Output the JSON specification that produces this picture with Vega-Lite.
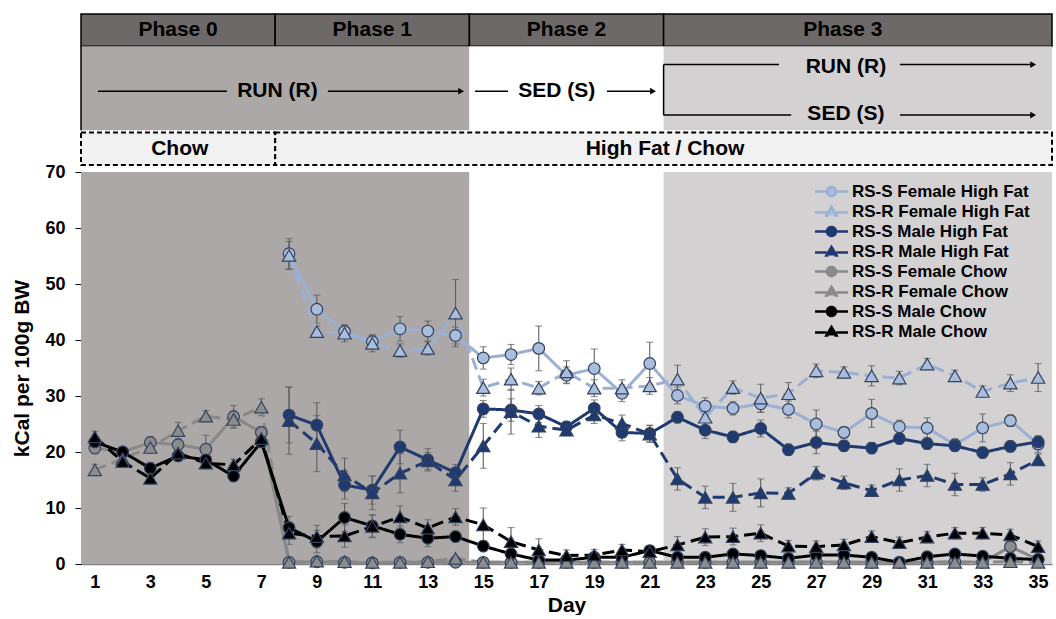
{
  "$schema": "https://vega.github.io/schema/vega-lite/v6.json",
  "width": 971,
  "height": 392,
  "padding": {"left": 11, "top": 13, "right": 0, "bottom": 0},
  "background": "white",
  "config": {
    "font": "Liberation Sans",
    "view": {"stroke": null},
    "axis": {"labelFont": "Liberation Sans", "titleFont": "Liberation Sans", "labelFontWeight": "bold", "titleFontWeight": "bold", "labelColor": "#000000", "titleColor": "#000000", "grid": false}
  },
  "datasets": {
    "bands": [
      {"state": "RUN", "start": 0.5, "end": 14.5},
      {"state": "SED", "start": 14.5, "end": 21.5},
      {"state": "RUN/SED", "start": 21.5, "end": 35.5}
    ],
    "phases": [
      {"label": "Phase 0", "start": 0.5, "end": 7.5, "mid": 4.0},
      {"label": "Phase 1", "start": 7.5, "end": 14.5, "mid": 11.0},
      {"label": "Phase 2", "start": 14.5, "end": 21.5, "mid": 18.0},
      {"label": "Phase 3", "start": 21.5, "end": 35.5, "mid": 27.96}
    ],
    "diets": [
      {"diet": "Chow", "start": 0.5, "end": 7.5, "mid": 4.06},
      {"diet": "High Fat / Chow", "start": 7.5, "end": 35.5, "mid": 21.55}
    ],
    "arrows": [
      {"start": 1.11, "end": 5.76, "lvl": 2.25, "lvl2": 2.25, "head": false},
      {"start": 9.4, "end": 14.2, "lvl": 2.25, "lvl2": 2.25, "head": true},
      {"start": 14.7, "end": 15.89, "lvl": 2.25, "lvl2": 2.25, "head": false},
      {"start": 19.46, "end": 21.12, "lvl": 2.25, "lvl2": 2.25, "head": true},
      {"start": 21.5, "end": 25.66, "lvl": 3.06, "lvl2": 3.06, "head": false},
      {"start": 30.02, "end": 34.82, "lvl": 3.06, "lvl2": 3.06, "head": true},
      {"start": 21.5, "end": 26.1, "lvl": 1.52, "lvl2": 1.52, "head": false},
      {"start": 30.02, "end": 34.82, "lvl": 1.52, "lvl2": 1.52, "head": true},
      {"start": 21.5, "end": 21.5, "lvl": 1.52, "lvl2": 3.06, "head": false},
      {"start": 0.5, "end": 0.5, "lvl": 1.06, "lvl2": 3.62, "head": false}
    ],
    "states": [
      {"text": "RUN (R)", "at": 7.58, "lvl": 2.25},
      {"text": "SED (S)", "at": 17.65, "lvl": 2.25},
      {"text": "RUN (R)", "at": 28.07, "lvl": 3.0},
      {"text": "SED (S)", "at": 28.07, "lvl": 1.56}
    ],
    "intake": [
      {"series": "RS-S Female High Fat", "day": 8, "kcal": 55.4, "sem": 2.7},
      {"series": "RS-S Female High Fat", "day": 9, "kcal": 45.5, "sem": 2.5},
      {"series": "RS-S Female High Fat", "day": 10, "kcal": 41.5, "sem": 1.2},
      {"series": "RS-S Female High Fat", "day": 11, "kcal": 39.7, "sem": 1.2},
      {"series": "RS-S Female High Fat", "day": 12, "kcal": 42.0, "sem": 2.2},
      {"series": "RS-S Female High Fat", "day": 13, "kcal": 41.6, "sem": 1.8},
      {"series": "RS-S Female High Fat", "day": 14, "kcal": 40.8, "sem": 1.5},
      {"series": "RS-S Female High Fat", "day": 15, "kcal": 36.8, "sem": 2.0},
      {"series": "RS-S Female High Fat", "day": 16, "kcal": 37.4, "sem": 1.8},
      {"series": "RS-S Female High Fat", "day": 17, "kcal": 38.5, "sem": 4.0},
      {"series": "RS-S Female High Fat", "day": 18, "kcal": 33.7, "sem": 1.5},
      {"series": "RS-S Female High Fat", "day": 19, "kcal": 34.9, "sem": 3.5},
      {"series": "RS-S Female High Fat", "day": 20, "kcal": 30.5, "sem": 1.5},
      {"series": "RS-S Female High Fat", "day": 21, "kcal": 35.8, "sem": 3.8},
      {"series": "RS-S Female High Fat", "day": 22, "kcal": 30.1, "sem": 1.5},
      {"series": "RS-S Female High Fat", "day": 23, "kcal": 28.2, "sem": 1.5},
      {"series": "RS-S Female High Fat", "day": 24, "kcal": 27.8, "sem": 1.2},
      {"series": "RS-S Female High Fat", "day": 25, "kcal": 28.6, "sem": 1.5},
      {"series": "RS-S Female High Fat", "day": 26, "kcal": 27.6, "sem": 1.5},
      {"series": "RS-S Female High Fat", "day": 27, "kcal": 25.0, "sem": 2.5},
      {"series": "RS-S Female High Fat", "day": 28, "kcal": 23.5, "sem": 1.0},
      {"series": "RS-S Female High Fat", "day": 29, "kcal": 26.9, "sem": 2.5},
      {"series": "RS-S Female High Fat", "day": 30, "kcal": 24.5, "sem": 1.2},
      {"series": "RS-S Female High Fat", "day": 31, "kcal": 24.3, "sem": 1.8},
      {"series": "RS-S Female High Fat", "day": 32, "kcal": 21.3, "sem": 1.0},
      {"series": "RS-S Female High Fat", "day": 33, "kcal": 24.3, "sem": 2.5},
      {"series": "RS-S Female High Fat", "day": 34, "kcal": 25.6, "sem": 1.0},
      {"series": "RS-S Female High Fat", "day": 35, "kcal": 21.4, "sem": 1.5},
      {"series": "RS-R Female High Fat", "day": 8, "kcal": 55.1, "sem": 2.5},
      {"series": "RS-R Female High Fat", "day": 9, "kcal": 41.5, "sem": 1.0},
      {"series": "RS-R Female High Fat", "day": 10, "kcal": 41.2, "sem": 1.5},
      {"series": "RS-R Female High Fat", "day": 11, "kcal": 39.4, "sem": 1.5},
      {"series": "RS-R Female High Fat", "day": 12, "kcal": 38.1, "sem": 1.2},
      {"series": "RS-R Female High Fat", "day": 13, "kcal": 38.5, "sem": 1.2},
      {"series": "RS-R Female High Fat", "day": 14, "kcal": 44.8, "sem": 6.0},
      {"series": "RS-R Female High Fat", "day": 15, "kcal": 31.5, "sem": 1.5},
      {"series": "RS-R Female High Fat", "day": 16, "kcal": 33.0, "sem": 2.0},
      {"series": "RS-R Female High Fat", "day": 17, "kcal": 31.4, "sem": 1.2},
      {"series": "RS-R Female High Fat", "day": 18, "kcal": 34.3, "sem": 2.0},
      {"series": "RS-R Female High Fat", "day": 19, "kcal": 31.4, "sem": 1.5},
      {"series": "RS-R Female High Fat", "day": 20, "kcal": 31.4, "sem": 1.5},
      {"series": "RS-R Female High Fat", "day": 21, "kcal": 31.8, "sem": 1.5},
      {"series": "RS-R Female High Fat", "day": 22, "kcal": 33.0, "sem": 2.5},
      {"series": "RS-R Female High Fat", "day": 23, "kcal": 26.2, "sem": 1.5},
      {"series": "RS-R Female High Fat", "day": 24, "kcal": 31.5, "sem": 1.2},
      {"series": "RS-R Female High Fat", "day": 25, "kcal": 29.6, "sem": 2.5},
      {"series": "RS-R Female High Fat", "day": 26, "kcal": 30.4, "sem": 2.0},
      {"series": "RS-R Female High Fat", "day": 27, "kcal": 34.5, "sem": 1.2},
      {"series": "RS-R Female High Fat", "day": 28, "kcal": 34.2, "sem": 1.0},
      {"series": "RS-R Female High Fat", "day": 29, "kcal": 33.6, "sem": 1.8},
      {"series": "RS-R Female High Fat", "day": 30, "kcal": 33.2, "sem": 1.2},
      {"series": "RS-R Female High Fat", "day": 31, "kcal": 35.7, "sem": 1.0},
      {"series": "RS-R Female High Fat", "day": 32, "kcal": 33.6, "sem": 1.0},
      {"series": "RS-R Female High Fat", "day": 33, "kcal": 30.8, "sem": 1.0},
      {"series": "RS-R Female High Fat", "day": 34, "kcal": 32.3, "sem": 1.5},
      {"series": "RS-R Female High Fat", "day": 35, "kcal": 33.3, "sem": 2.5},
      {"series": "RS-S Male High Fat", "day": 8, "kcal": 26.6, "sem": 5.0},
      {"series": "RS-S Male High Fat", "day": 9, "kcal": 24.8, "sem": 4.0},
      {"series": "RS-S Male High Fat", "day": 10, "kcal": 14.1, "sem": 2.5},
      {"series": "RS-S Male High Fat", "day": 11, "kcal": 13.2, "sem": 2.5},
      {"series": "RS-S Male High Fat", "day": 12, "kcal": 20.9, "sem": 3.0},
      {"series": "RS-S Male High Fat", "day": 13, "kcal": 18.6, "sem": 2.0},
      {"series": "RS-S Male High Fat", "day": 14, "kcal": 16.3, "sem": 1.5},
      {"series": "RS-S Male High Fat", "day": 15, "kcal": 27.7, "sem": 1.5},
      {"series": "RS-S Male High Fat", "day": 16, "kcal": 27.5, "sem": 2.0},
      {"series": "RS-S Male High Fat", "day": 17, "kcal": 26.8, "sem": 1.5},
      {"series": "RS-S Male High Fat", "day": 18, "kcal": 24.5, "sem": 1.0},
      {"series": "RS-S Male High Fat", "day": 19, "kcal": 27.8, "sem": 1.5},
      {"series": "RS-S Male High Fat", "day": 20, "kcal": 23.5, "sem": 1.5},
      {"series": "RS-S Male High Fat", "day": 21, "kcal": 23.3, "sem": 1.5},
      {"series": "RS-S Male High Fat", "day": 22, "kcal": 26.2, "sem": 1.0},
      {"series": "RS-S Male High Fat", "day": 23, "kcal": 23.9, "sem": 1.5},
      {"series": "RS-S Male High Fat", "day": 24, "kcal": 22.7, "sem": 1.0},
      {"series": "RS-S Male High Fat", "day": 25, "kcal": 24.2, "sem": 1.5},
      {"series": "RS-S Male High Fat", "day": 26, "kcal": 20.4, "sem": 1.0},
      {"series": "RS-S Male High Fat", "day": 27, "kcal": 21.7, "sem": 2.0},
      {"series": "RS-S Male High Fat", "day": 28, "kcal": 21.1, "sem": 1.0},
      {"series": "RS-S Male High Fat", "day": 29, "kcal": 20.7, "sem": 1.0},
      {"series": "RS-S Male High Fat", "day": 30, "kcal": 22.4, "sem": 1.0},
      {"series": "RS-S Male High Fat", "day": 31, "kcal": 21.5, "sem": 1.0},
      {"series": "RS-S Male High Fat", "day": 32, "kcal": 21.1, "sem": 1.0},
      {"series": "RS-S Male High Fat", "day": 33, "kcal": 19.9, "sem": 1.0},
      {"series": "RS-S Male High Fat", "day": 34, "kcal": 21.0, "sem": 1.0},
      {"series": "RS-S Male High Fat", "day": 35, "kcal": 21.8, "sem": 1.0},
      {"series": "RS-R Male High Fat", "day": 8, "kcal": 25.6, "sem": 6.0},
      {"series": "RS-R Male High Fat", "day": 9, "kcal": 21.5, "sem": 5.0},
      {"series": "RS-R Male High Fat", "day": 10, "kcal": 15.9, "sem": 3.0},
      {"series": "RS-R Male High Fat", "day": 11, "kcal": 12.7, "sem": 3.0},
      {"series": "RS-R Male High Fat", "day": 12, "kcal": 16.2, "sem": 3.5},
      {"series": "RS-R Male High Fat", "day": 13, "kcal": 18.4, "sem": 1.5},
      {"series": "RS-R Male High Fat", "day": 14, "kcal": 15.0, "sem": 2.0},
      {"series": "RS-R Male High Fat", "day": 15, "kcal": 21.1, "sem": 4.0},
      {"series": "RS-R Male High Fat", "day": 16, "kcal": 27.2, "sem": 4.0},
      {"series": "RS-R Male High Fat", "day": 17, "kcal": 24.6, "sem": 2.0},
      {"series": "RS-R Male High Fat", "day": 18, "kcal": 23.9, "sem": 1.0},
      {"series": "RS-R Male High Fat", "day": 19, "kcal": 26.6, "sem": 1.5},
      {"series": "RS-R Male High Fat", "day": 20, "kcal": 25.1, "sem": 1.5},
      {"series": "RS-R Male High Fat", "day": 21, "kcal": 23.2, "sem": 1.5},
      {"series": "RS-R Male High Fat", "day": 22, "kcal": 15.2, "sem": 2.0},
      {"series": "RS-R Male High Fat", "day": 23, "kcal": 11.9, "sem": 2.0},
      {"series": "RS-R Male High Fat", "day": 24, "kcal": 11.9, "sem": 2.5},
      {"series": "RS-R Male High Fat", "day": 25, "kcal": 12.7, "sem": 2.5},
      {"series": "RS-R Male High Fat", "day": 26, "kcal": 12.6, "sem": 1.0},
      {"series": "RS-R Male High Fat", "day": 27, "kcal": 16.2, "sem": 1.2},
      {"series": "RS-R Male High Fat", "day": 28, "kcal": 14.5, "sem": 1.2},
      {"series": "RS-R Male High Fat", "day": 29, "kcal": 13.1, "sem": 1.0},
      {"series": "RS-R Male High Fat", "day": 30, "kcal": 15.0, "sem": 2.0},
      {"series": "RS-R Male High Fat", "day": 31, "kcal": 15.8, "sem": 2.0},
      {"series": "RS-R Male High Fat", "day": 32, "kcal": 14.2, "sem": 2.0},
      {"series": "RS-R Male High Fat", "day": 33, "kcal": 14.2, "sem": 1.2},
      {"series": "RS-R Male High Fat", "day": 34, "kcal": 16.1, "sem": 2.0},
      {"series": "RS-R Male High Fat", "day": 35, "kcal": 18.6, "sem": 1.0},
      {"series": "RS-S Female Chow", "day": 1, "kcal": 20.7, "sem": 1.0},
      {"series": "RS-S Female Chow", "day": 2, "kcal": 20.0, "sem": 0.8},
      {"series": "RS-S Female Chow", "day": 3, "kcal": 21.7, "sem": 1.0},
      {"series": "RS-S Female Chow", "day": 4, "kcal": 21.3, "sem": 1.0},
      {"series": "RS-S Female Chow", "day": 5, "kcal": 20.5, "sem": 2.5},
      {"series": "RS-S Female Chow", "day": 6, "kcal": 26.3, "sem": 2.0},
      {"series": "RS-S Female Chow", "day": 7, "kcal": 23.5, "sem": 1.0},
      {"series": "RS-S Female Chow", "day": 8, "kcal": 0.3, "sem": 0.2},
      {"series": "RS-S Female Chow", "day": 9, "kcal": 0.4, "sem": 0.2},
      {"series": "RS-S Female Chow", "day": 10, "kcal": 0.3, "sem": 0.2},
      {"series": "RS-S Female Chow", "day": 11, "kcal": 0.2, "sem": 0.2},
      {"series": "RS-S Female Chow", "day": 12, "kcal": 0.3, "sem": 0.2},
      {"series": "RS-S Female Chow", "day": 13, "kcal": 0.3, "sem": 0.2},
      {"series": "RS-S Female Chow", "day": 14, "kcal": 0.3, "sem": 0.2},
      {"series": "RS-S Female Chow", "day": 15, "kcal": 0.3, "sem": 0.2},
      {"series": "RS-S Female Chow", "day": 16, "kcal": 0.3, "sem": 0.2},
      {"series": "RS-S Female Chow", "day": 17, "kcal": 0.3, "sem": 0.2},
      {"series": "RS-S Female Chow", "day": 18, "kcal": 0.3, "sem": 0.2},
      {"series": "RS-S Female Chow", "day": 19, "kcal": 0.3, "sem": 0.2},
      {"series": "RS-S Female Chow", "day": 20, "kcal": 0.3, "sem": 0.2},
      {"series": "RS-S Female Chow", "day": 21, "kcal": 0.3, "sem": 0.2},
      {"series": "RS-S Female Chow", "day": 22, "kcal": 0.3, "sem": 0.2},
      {"series": "RS-S Female Chow", "day": 23, "kcal": 0.3, "sem": 0.2},
      {"series": "RS-S Female Chow", "day": 24, "kcal": 0.3, "sem": 0.2},
      {"series": "RS-S Female Chow", "day": 25, "kcal": 0.3, "sem": 0.2},
      {"series": "RS-S Female Chow", "day": 26, "kcal": 0.3, "sem": 0.2},
      {"series": "RS-S Female Chow", "day": 27, "kcal": 0.4, "sem": 0.2},
      {"series": "RS-S Female Chow", "day": 28, "kcal": 0.3, "sem": 0.2},
      {"series": "RS-S Female Chow", "day": 29, "kcal": 0.3, "sem": 0.2},
      {"series": "RS-S Female Chow", "day": 30, "kcal": 0.3, "sem": 0.2},
      {"series": "RS-S Female Chow", "day": 31, "kcal": 0.3, "sem": 0.2},
      {"series": "RS-S Female Chow", "day": 32, "kcal": 0.4, "sem": 0.2},
      {"series": "RS-S Female Chow", "day": 33, "kcal": 0.3, "sem": 0.2},
      {"series": "RS-S Female Chow", "day": 34, "kcal": 3.1, "sem": 1.0},
      {"series": "RS-S Female Chow", "day": 35, "kcal": 0.8, "sem": 0.3},
      {"series": "RS-R Female Chow", "day": 1, "kcal": 16.8, "sem": 1.0},
      {"series": "RS-R Female Chow", "day": 2, "kcal": 18.8, "sem": 1.0},
      {"series": "RS-R Female Chow", "day": 3, "kcal": 20.8, "sem": 1.0},
      {"series": "RS-R Female Chow", "day": 4, "kcal": 23.8, "sem": 1.5},
      {"series": "RS-R Female Chow", "day": 5, "kcal": 26.4, "sem": 1.0},
      {"series": "RS-R Female Chow", "day": 6, "kcal": 25.8, "sem": 1.5},
      {"series": "RS-R Female Chow", "day": 7, "kcal": 28.0, "sem": 1.5},
      {"series": "RS-R Female Chow", "day": 8, "kcal": 0.3, "sem": 0.2},
      {"series": "RS-R Female Chow", "day": 9, "kcal": 0.5, "sem": 0.2},
      {"series": "RS-R Female Chow", "day": 10, "kcal": 0.4, "sem": 0.2},
      {"series": "RS-R Female Chow", "day": 11, "kcal": 0.3, "sem": 0.2},
      {"series": "RS-R Female Chow", "day": 12, "kcal": 0.3, "sem": 0.2},
      {"series": "RS-R Female Chow", "day": 13, "kcal": 0.4, "sem": 0.2},
      {"series": "RS-R Female Chow", "day": 14, "kcal": 1.0, "sem": 0.3},
      {"series": "RS-R Female Chow", "day": 15, "kcal": 0.3, "sem": 0.2},
      {"series": "RS-R Female Chow", "day": 16, "kcal": 0.3, "sem": 0.2},
      {"series": "RS-R Female Chow", "day": 17, "kcal": 0.3, "sem": 0.2},
      {"series": "RS-R Female Chow", "day": 18, "kcal": 0.3, "sem": 0.2},
      {"series": "RS-R Female Chow", "day": 19, "kcal": 0.3, "sem": 0.2},
      {"series": "RS-R Female Chow", "day": 20, "kcal": 0.3, "sem": 0.2},
      {"series": "RS-R Female Chow", "day": 21, "kcal": 0.3, "sem": 0.2},
      {"series": "RS-R Female Chow", "day": 22, "kcal": 0.3, "sem": 0.2},
      {"series": "RS-R Female Chow", "day": 23, "kcal": 0.3, "sem": 0.2},
      {"series": "RS-R Female Chow", "day": 24, "kcal": 0.3, "sem": 0.2},
      {"series": "RS-R Female Chow", "day": 25, "kcal": 0.3, "sem": 0.2},
      {"series": "RS-R Female Chow", "day": 26, "kcal": 0.3, "sem": 0.2},
      {"series": "RS-R Female Chow", "day": 27, "kcal": 0.3, "sem": 0.2},
      {"series": "RS-R Female Chow", "day": 28, "kcal": 0.3, "sem": 0.2},
      {"series": "RS-R Female Chow", "day": 29, "kcal": 0.3, "sem": 0.2},
      {"series": "RS-R Female Chow", "day": 30, "kcal": 0.3, "sem": 0.2},
      {"series": "RS-R Female Chow", "day": 31, "kcal": 0.3, "sem": 0.2},
      {"series": "RS-R Female Chow", "day": 32, "kcal": 0.3, "sem": 0.2},
      {"series": "RS-R Female Chow", "day": 33, "kcal": 0.3, "sem": 0.2},
      {"series": "RS-R Female Chow", "day": 34, "kcal": 0.4, "sem": 0.2},
      {"series": "RS-R Female Chow", "day": 35, "kcal": 0.3, "sem": 0.2},
      {"series": "RS-S Male Chow", "day": 1, "kcal": 21.8, "sem": 1.0},
      {"series": "RS-S Male Chow", "day": 2, "kcal": 20.0, "sem": 0.8},
      {"series": "RS-S Male Chow", "day": 3, "kcal": 17.1, "sem": 1.0},
      {"series": "RS-S Male Chow", "day": 4, "kcal": 19.3, "sem": 1.0},
      {"series": "RS-S Male Chow", "day": 5, "kcal": 18.6, "sem": 1.0},
      {"series": "RS-S Male Chow", "day": 6, "kcal": 15.7, "sem": 1.0},
      {"series": "RS-S Male Chow", "day": 7, "kcal": 21.8, "sem": 1.0},
      {"series": "RS-S Male Chow", "day": 8, "kcal": 6.5, "sem": 2.0},
      {"series": "RS-S Male Chow", "day": 9, "kcal": 4.0, "sem": 2.0},
      {"series": "RS-S Male Chow", "day": 10, "kcal": 8.3, "sem": 2.5},
      {"series": "RS-S Male Chow", "day": 11, "kcal": 6.8, "sem": 2.0},
      {"series": "RS-S Male Chow", "day": 12, "kcal": 5.3, "sem": 1.5},
      {"series": "RS-S Male Chow", "day": 13, "kcal": 4.6, "sem": 1.5},
      {"series": "RS-S Male Chow", "day": 14, "kcal": 4.9, "sem": 1.0},
      {"series": "RS-S Male Chow", "day": 15, "kcal": 3.2, "sem": 1.0},
      {"series": "RS-S Male Chow", "day": 16, "kcal": 1.8, "sem": 1.0},
      {"series": "RS-S Male Chow", "day": 17, "kcal": 0.7, "sem": 0.8},
      {"series": "RS-S Male Chow", "day": 18, "kcal": 0.7, "sem": 0.5},
      {"series": "RS-S Male Chow", "day": 19, "kcal": 1.2, "sem": 0.5},
      {"series": "RS-S Male Chow", "day": 20, "kcal": 1.2, "sem": 0.5},
      {"series": "RS-S Male Chow", "day": 21, "kcal": 2.4, "sem": 0.5},
      {"series": "RS-S Male Chow", "day": 22, "kcal": 1.2, "sem": 0.5},
      {"series": "RS-S Male Chow", "day": 23, "kcal": 1.2, "sem": 0.5},
      {"series": "RS-S Male Chow", "day": 24, "kcal": 1.8, "sem": 0.5},
      {"series": "RS-S Male Chow", "day": 25, "kcal": 1.5, "sem": 0.5},
      {"series": "RS-S Male Chow", "day": 26, "kcal": 1.0, "sem": 0.5},
      {"series": "RS-S Male Chow", "day": 27, "kcal": 1.6, "sem": 0.5},
      {"series": "RS-S Male Chow", "day": 28, "kcal": 1.6, "sem": 0.5},
      {"series": "RS-S Male Chow", "day": 29, "kcal": 1.2, "sem": 0.5},
      {"series": "RS-S Male Chow", "day": 30, "kcal": 0.3, "sem": 0.3},
      {"series": "RS-S Male Chow", "day": 31, "kcal": 1.3, "sem": 0.5},
      {"series": "RS-S Male Chow", "day": 32, "kcal": 1.8, "sem": 0.5},
      {"series": "RS-S Male Chow", "day": 33, "kcal": 1.4, "sem": 0.5},
      {"series": "RS-S Male Chow", "day": 34, "kcal": 1.0, "sem": 0.5},
      {"series": "RS-S Male Chow", "day": 35, "kcal": 0.8, "sem": 0.5},
      {"series": "RS-R Male Chow", "day": 1, "kcal": 22.7, "sem": 1.0},
      {"series": "RS-R Male Chow", "day": 2, "kcal": 18.3, "sem": 1.0},
      {"series": "RS-R Male Chow", "day": 3, "kcal": 15.3, "sem": 1.0},
      {"series": "RS-R Male Chow", "day": 4, "kcal": 19.8, "sem": 1.0},
      {"series": "RS-R Male Chow", "day": 5, "kcal": 18.0, "sem": 1.0},
      {"series": "RS-R Male Chow", "day": 6, "kcal": 17.7, "sem": 1.0},
      {"series": "RS-R Male Chow", "day": 7, "kcal": 22.4, "sem": 1.0},
      {"series": "RS-R Male Chow", "day": 8, "kcal": 5.5, "sem": 2.0},
      {"series": "RS-R Male Chow", "day": 9, "kcal": 4.9, "sem": 2.0},
      {"series": "RS-R Male Chow", "day": 10, "kcal": 5.0, "sem": 2.0},
      {"series": "RS-R Male Chow", "day": 11, "kcal": 6.7, "sem": 2.0},
      {"series": "RS-R Male Chow", "day": 12, "kcal": 8.4, "sem": 2.0},
      {"series": "RS-R Male Chow", "day": 13, "kcal": 6.4, "sem": 1.5},
      {"series": "RS-R Male Chow", "day": 14, "kcal": 8.4, "sem": 1.5},
      {"series": "RS-R Male Chow", "day": 15, "kcal": 7.0, "sem": 3.0},
      {"series": "RS-R Male Chow", "day": 16, "kcal": 4.0, "sem": 2.5},
      {"series": "RS-R Male Chow", "day": 17, "kcal": 2.5, "sem": 2.0},
      {"series": "RS-R Male Chow", "day": 18, "kcal": 1.5, "sem": 1.0},
      {"series": "RS-R Male Chow", "day": 19, "kcal": 1.6, "sem": 1.0},
      {"series": "RS-R Male Chow", "day": 20, "kcal": 2.5, "sem": 1.0},
      {"series": "RS-R Male Chow", "day": 21, "kcal": 2.2, "sem": 1.0},
      {"series": "RS-R Male Chow", "day": 22, "kcal": 3.4, "sem": 1.5},
      {"series": "RS-R Male Chow", "day": 23, "kcal": 4.8, "sem": 1.5},
      {"series": "RS-R Male Chow", "day": 24, "kcal": 4.9, "sem": 1.5},
      {"series": "RS-R Male Chow", "day": 25, "kcal": 5.5, "sem": 1.5},
      {"series": "RS-R Male Chow", "day": 26, "kcal": 3.2, "sem": 1.0},
      {"series": "RS-R Male Chow", "day": 27, "kcal": 3.1, "sem": 1.0},
      {"series": "RS-R Male Chow", "day": 28, "kcal": 3.4, "sem": 1.0},
      {"series": "RS-R Male Chow", "day": 29, "kcal": 4.9, "sem": 1.0},
      {"series": "RS-R Male Chow", "day": 30, "kcal": 3.8, "sem": 1.0},
      {"series": "RS-R Male Chow", "day": 31, "kcal": 4.8, "sem": 1.0},
      {"series": "RS-R Male Chow", "day": 32, "kcal": 5.5, "sem": 1.0},
      {"series": "RS-R Male Chow", "day": 33, "kcal": 5.5, "sem": 1.0},
      {"series": "RS-R Male Chow", "day": 34, "kcal": 5.2, "sem": 1.0},
      {"series": "RS-R Male Chow", "day": 35, "kcal": 3.1, "sem": 1.0}
    ]
  },
  "layer": [
    {
      "layer": [
        {
          "data": {"name": "phases"},
          "mark": {"type": "rect", "fill": "#6e6969", "stroke": "#000000", "strokeWidth": 1.5},
          "encoding": {
            "x": {
              "field": "start", "type": "quantitative", "scale": {"domain": [0.5, 35.5], "nice": false, "zero": false},
              "axis": {"title": "Day", "values": [1, 3, 5, 7, 9, 11, 13, 15, 17, 19, 21, 23, 25, 27, 29, 31, 33, 35], "format": "d", "labelFontSize": 18, "titleFontSize": 21, "ticks": false, "tickSize": 0, "labelPadding": 9, "titlePadding": 3, "domainColor": "#808080", "domainWidth": 1.5}
            },
            "x2": {"field": "end"},
            "y": {"datum": 3.62, "type": "quantitative", "scale": {"domain": [0, 4.6], "range": [-7, -158], "nice": false, "zero": false}, "axis": null},
            "y2": {"datum": 4.6}
          }
        },
        {
          "data": {"name": "phases"},
          "mark": {"type": "text", "fontSize": 21, "fontWeight": "bold", "font": "Liberation Sans", "color": "#000000", "baseline": "middle", "align": "center"},
          "encoding": {
            "x": {"field": "mid", "type": "quantitative"},
            "y": {"datum": 4.1, "type": "quantitative", "axis": null},
            "text": {"field": "label"}
          }
        },
        {
          "data": {"name": "bands"},
          "mark": {"type": "rect"},
          "encoding": {
            "x": {"field": "start", "type": "quantitative"},
            "x2": {"field": "end"},
            "y": {"datum": 1.06, "type": "quantitative", "axis": null},
            "y2": {"datum": 3.62},
            "color": {"field": "state", "type": "nominal", "scale": {"domain": ["RUN", "SED", "RUN/SED"], "range": ["#aca8a8", "#ffffff", "#d3d1d2"]}, "legend": null}
          }
        },
        {
          "data": {"name": "diets"},
          "mark": {"type": "rect", "fill": "#f1f1f1", "stroke": "#000000", "strokeWidth": 2, "strokeDash": [5, 3]},
          "encoding": {
            "x": {"field": "start", "type": "quantitative"},
            "x2": {"field": "end"},
            "y": {"datum": 0, "type": "quantitative", "axis": null},
            "y2": {"datum": 0.99}
          }
        },
        {
          "data": {"name": "diets"},
          "mark": {"type": "text", "fontSize": 21, "fontWeight": "bold", "font": "Liberation Sans", "color": "#000000", "baseline": "middle", "align": "center"},
          "encoding": {
            "x": {"field": "mid", "type": "quantitative"},
            "y": {"datum": 0.5, "type": "quantitative", "axis": null},
            "text": {"field": "diet"}
          }
        },
        {
          "data": {"name": "arrows"},
          "mark": {"type": "rule", "color": "#000000", "strokeWidth": 1.5},
          "encoding": {
            "x": {"field": "start", "type": "quantitative"},
            "x2": {"field": "end"},
            "y": {"field": "lvl", "type": "quantitative", "axis": null},
            "y2": {"field": "lvl2"}
          }
        },
        {
          "data": {"name": "arrows"},
          "transform": [{"filter": "datum.head"}],
          "mark": {"type": "point", "shape": "triangle-right", "filled": true, "color": "#000000", "size": 45, "opacity": 1},
          "encoding": {
            "x": {"field": "end", "type": "quantitative"},
            "y": {"field": "lvl", "type": "quantitative", "axis": null}
          }
        },
        {
          "data": {"name": "states"},
          "mark": {"type": "text", "fontSize": 21, "fontWeight": "bold", "font": "Liberation Sans", "color": "#000000", "baseline": "middle", "align": "center"},
          "encoding": {
            "x": {"field": "at", "type": "quantitative"},
            "y": {"field": "lvl", "type": "quantitative", "axis": null},
            "text": {"field": "text"}
          }
        }
      ]
    },
    {
      "layer": [
        {
          "data": {"name": "intake"},
          "mark": {"type": "point", "filled": true, "size": 1, "opacity": 1},
          "encoding": {
            "x": {"field": "day", "type": "quantitative", "title": "Day"},
            "y": {
              "field": "kcal", "type": "quantitative", "title": "kCal per 100g BW", "scale": {"domain": [0, 70], "nice": false},
              "axis": {"title": "kCal per 100g BW", "values": [0, 10, 20, 30, 40, 50, 60, 70], "labelFontSize": 18, "titleFontSize": 21, "tickSize": 6, "tickColor": "#000000", "domainColor": "#000000", "labelPadding": 10, "titlePadding": 12}
            },
            "shape": {
              "field": "series", "type": "nominal",
              "scale": {
                "domain": ["RS-S Female High Fat", "RS-R Female High Fat", "RS-S Male High Fat", "RS-R Male High Fat", "RS-S Female Chow", "RS-R Female Chow", "RS-S Male Chow", "RS-R Male Chow"],
                "range": [
                  "M-2.75,0H-0.75M0.75,0H2.75M-0.75,0A0.75,0.75,0,1,0,0.75,0A0.75,0.75,0,1,0,-0.75,0Z",
                  "M-2.75,0.15H-0.8M0.8,0.15H2.75M0,-0.75L0.85,0.65L-0.85,0.65Z",
                  "M-2.75,0H-0.75M0.75,0H2.75M-0.75,0A0.75,0.75,0,1,0,0.75,0A0.75,0.75,0,1,0,-0.75,0Z",
                  "M-2.75,0.15H-0.8M0.8,0.15H2.75M0,-0.75L0.85,0.65L-0.85,0.65Z",
                  "M-2.75,0H-0.75M0.75,0H2.75M-0.75,0A0.75,0.75,0,1,0,0.75,0A0.75,0.75,0,1,0,-0.75,0Z",
                  "M-2.75,0.15H-0.8M0.8,0.15H2.75M0,-0.75L0.85,0.65L-0.85,0.65Z",
                  "M-2.75,0H-0.75M0.75,0H2.75M-0.75,0A0.75,0.75,0,1,0,0.75,0A0.75,0.75,0,1,0,-0.75,0Z",
                  "M-2.75,0.15H-0.8M0.8,0.15H2.75M0,-0.75L0.85,0.65L-0.85,0.65Z"
                ]
              },
              "legend": {
                "title": null, "orient": "none", "legendX": 742, "legendY": 11,
                "labelFont": "Liberation Sans", "labelFontSize": 17, "labelFontWeight": "bold", "labelColor": "#000000",
                "symbolSize": 144, "symbolStrokeWidth": 2.5, "labelOffset": 12, "rowPadding": 1, "labelLimit": 400
              }
            },
            "fill": {
              "field": "series", "type": "nominal",
              "scale": {
                "domain": ["RS-S Female High Fat", "RS-R Female High Fat", "RS-S Male High Fat", "RS-R Male High Fat", "RS-S Female Chow", "RS-R Female Chow", "RS-S Male Chow", "RS-R Male Chow"],
                "range": ["#a9bddc", "#a9bddc", "#1f3a70", "#1f3a70", "#8c8c8c", "#8c8c8c", "#000000", "#000000"]
              },
              "legend": {
                "title": null, "orient": "none", "legendX": 742, "legendY": 11,
                "labelFont": "Liberation Sans", "labelFontSize": 17, "labelFontWeight": "bold", "labelColor": "#000000",
                "symbolSize": 144, "symbolStrokeWidth": 2.5, "labelOffset": 12, "rowPadding": 1, "labelLimit": 400
              }
            },
            "stroke": {
              "field": "series", "type": "nominal",
              "scale": {
                "domain": ["RS-S Female High Fat", "RS-R Female High Fat", "RS-S Male High Fat", "RS-R Male High Fat", "RS-S Female Chow", "RS-R Female Chow", "RS-S Male Chow", "RS-R Male Chow"],
                "range": ["#9ab0d4", "#9ab0d4", "#1f3a70", "#1f3a70", "#888888", "#888888", "#000000", "#000000"]
              },
              "legend": {
                "title": null, "orient": "none", "legendX": 742, "legendY": 11,
                "labelFont": "Liberation Sans", "labelFontSize": 17, "labelFontWeight": "bold", "labelColor": "#000000",
                "symbolSize": 144, "symbolStrokeWidth": 2.5, "labelOffset": 12, "rowPadding": 1, "labelLimit": 400
              }
            }
          }
        },
        {
          "data": {"name": "bands"},
          "mark": {"type": "rect"},
          "encoding": {
            "x": {"field": "start", "type": "quantitative", "title": "Day"},
            "x2": {"field": "end"},
            "color": {"field": "state", "type": "nominal", "legend": null}
          }
        },
        {
          "data": {"name": "intake"},
          "mark": {"type": "errorbar", "ticks": true, "size": 7, "thickness": 1.1, "color": "#5e5e5e"},
          "encoding": {
            "x": {"field": "day", "type": "quantitative", "title": "Day"},
            "y": {"field": "kcal", "type": "quantitative", "title": "kCal per 100g BW"},
            "yError": {"field": "sem"}
          }
        },
        {
          "data": {"name": "intake"},
          "mark": {"type": "line", "strokeWidth": 3},
          "encoding": {
            "x": {"field": "day", "type": "quantitative", "title": "Day"},
            "y": {"field": "kcal", "type": "quantitative", "title": "kCal per 100g BW"},
            "stroke": {"field": "series", "type": "nominal"},
            "strokeDash": {
              "field": "series", "type": "nominal",
              "scale": {
                "domain": ["RS-S Female High Fat", "RS-R Female High Fat", "RS-S Male High Fat", "RS-R Male High Fat", "RS-S Female Chow", "RS-R Female Chow", "RS-S Male Chow", "RS-R Male Chow"],
                "range": [[1, 0], [12, 6], [1, 0], [12, 6], [1, 0], [12, 6], [1, 0], [12, 6]]
              },
              "legend": null
            }
          }
        },
        {
          "data": {"name": "intake"},
          "transform": [{"filter": "indexof(datum.series, 'RS-S') === 0"}],
          "mark": {"type": "point", "shape": "circle", "filled": true, "size": 135, "stroke": "#34425e", "strokeWidth": 1.2, "opacity": 1},
          "encoding": {
            "x": {"field": "day", "type": "quantitative", "title": "Day"},
            "y": {"field": "kcal", "type": "quantitative", "title": "kCal per 100g BW"},
            "fill": {"field": "series", "type": "nominal"}
          }
        },
        {
          "data": {"name": "intake"},
          "transform": [{"filter": "indexof(datum.series, 'RS-R') === 0"}],
          "mark": {"type": "point", "shape": "triangle-up", "filled": true, "size": 175, "stroke": "#34425e", "strokeWidth": 1.2, "opacity": 1},
          "encoding": {
            "x": {"field": "day", "type": "quantitative", "title": "Day"},
            "y": {"field": "kcal", "type": "quantitative", "title": "kCal per 100g BW"},
            "fill": {"field": "series", "type": "nominal"}
          }
        }
      ]
    }
  ],
  "resolve": {"scale": {"y": "independent"}, "axis": {"y": "independent"}}
}
